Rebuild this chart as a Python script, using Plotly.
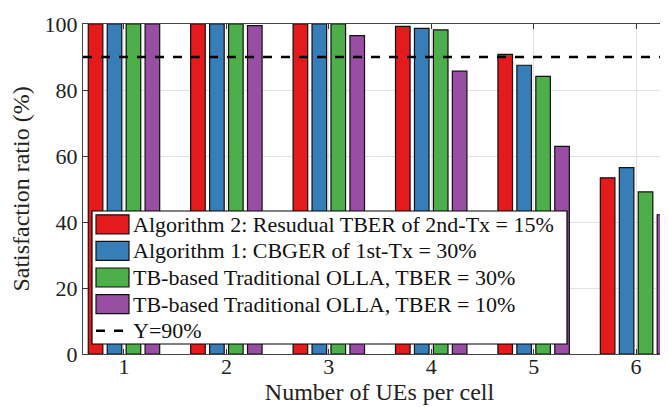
import plotly.graph_objects as go

categories = [1, 2, 3, 4, 5, 6]
series_names = [
    "Algorithm 2: Resudual TBER of 2nd-Tx = 15%",
    "Algorithm 1: CBGER of 1st-Tx = 30%",
    "TB-based Traditional OLLA, TBER = 30%",
    "TB-based Traditional OLLA, TBER = 10%",
]
alg2 = [100, 100, 100, 99.3, 90.8, 53.4]
alg1 = [100, 100, 100, 98.7, 87.5, 56.5]
olla30 = [100, 100, 100, 98.2, 84.1, 49.1]
olla10 = [100, 99.5, 96.5, 85.7, 62.9, 42.2]
threshold = 90
threshold_name = "Y=90%"
colors = ["#E41A1C", "#377EB8", "#4DAF4A", "#984EA3"]
y_ticks = [0, 20, 40, 60, 80, 100]

FONT = "Liberation Serif, Times New Roman, serif"
TXT = "#222222"

# plot-area geometry in pixels (for placing the boxed legend)
W_FIG, H_FIG = 668, 407
M_L, M_R, M_T, M_B = 75, 0, 16, 61
PW = W_FIG - M_L - M_R
PH = H_FIG - M_T - M_B


def px(x):
    return (x - M_L) / PW


def py(y):
    return (M_T + PH - y) / PH


fig = go.Figure()
for name, vals, col in zip(series_names, [alg2, alg1, olla30, olla10], colors):
    fig.add_trace(go.Bar(
        x=categories, y=vals, name=name, showlegend=False,
        marker=dict(color=col, line=dict(color="#111111", width=1.2)),
    ))

fig.add_hline(y=threshold, line=dict(color="black", width=2.5, dash="dash"), layer="above")

# boxed legend drawn as layout shapes + text
box_l, box_r, box_t, box_b = 84, 559, 203, 336
row_h = (box_b - box_t) / 5
fig.add_shape(type="rect", xref="paper", yref="paper",
              x0=px(box_l), x1=px(box_r), y0=py(box_b), y1=py(box_t),
              fillcolor="white", line=dict(color="black", width=1.2), layer="above")
labels = series_names + [threshold_name]
for i, lab in enumerate(labels):
    yc = box_t + row_h * (i + 0.5)
    if i < len(colors):
        fig.add_shape(type="rect", xref="paper", yref="paper",
                      x0=px(88), x1=px(121), y0=py(yc + 9.5), y1=py(yc - 9.5),
                      fillcolor=colors[i], line=dict(color="#111111", width=1.2), layer="above")
    else:
        fig.add_shape(type="line", xref="paper", yref="paper",
                      x0=px(88), x1=px(122), y0=py(yc), y1=py(yc),
                      line=dict(color="black", width=2.5, dash="dash"), layer="above")
    fig.add_annotation(xref="paper", yref="paper", x=px(123), y=py(yc),
                       xanchor="left", yanchor="middle", showarrow=False,
                       text=lab, font=dict(family=FONT, size=22, color="#111111"))

axis_common = dict(
    showline=True, linecolor="#444444", linewidth=1, mirror="ticks",
    ticks="inside", ticklen=5, tickcolor="#333333",
    showgrid=True, gridcolor="#e3e3e3", gridwidth=1, zeroline=False,
    tickfont=dict(family=FONT, size=22, color=TXT),
)

fig.update_layout(
    width=W_FIG, height=H_FIG,
    margin=dict(l=M_L, r=M_R, t=M_T, b=M_B),
    paper_bgcolor="white", plot_bgcolor="white",
    barmode="group", bargap=0.26, bargroupgap=0.23,
    font=dict(family=FONT, size=22, color=TXT),
    showlegend=False,
    xaxis=dict(
        range=[0.6, 6.39], tickvals=categories, ticklabelstandoff=-7,
        title=dict(text="Number of UEs per cell", font=dict(family=FONT, size=24, color=TXT), standoff=2),
        **axis_common,
    ),
    yaxis=dict(
        range=[0, 100], tickvals=y_ticks,
        title=dict(text="Satisfaction ratio (%)", font=dict(family=FONT, size=24, color=TXT), standoff=10),
        **axis_common,
    ),
)

fig.write_html("out.html")
